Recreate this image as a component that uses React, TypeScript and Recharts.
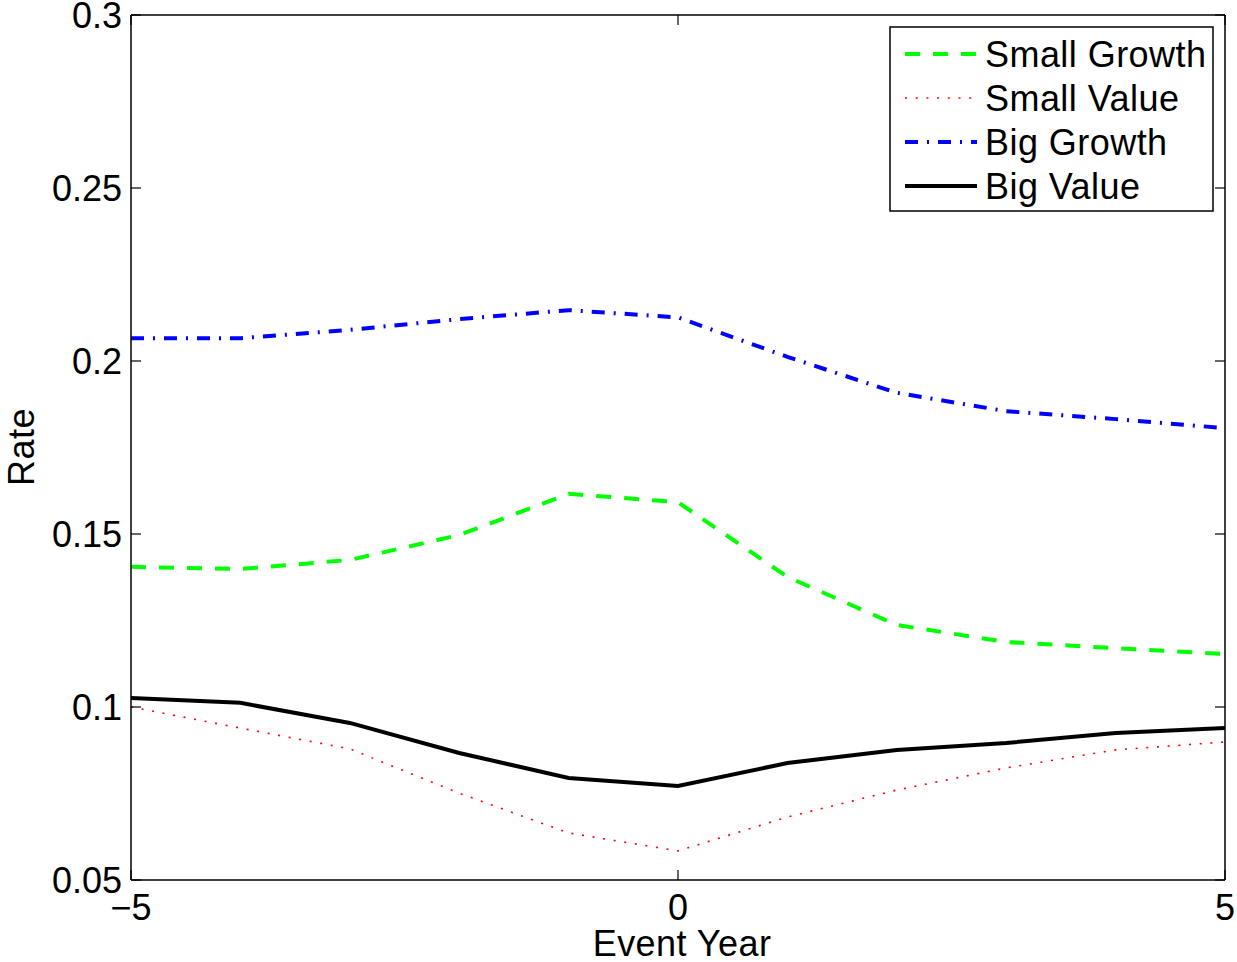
import React from 'react';
import { LineChart, Line, XAxis, YAxis, ReferenceLine, Label } from 'recharts';

const years = [-5, -4, -3, -2, -1, 0, 1, 2, 3, 4, 5];
const smallGrowth = [0.1405, 0.1399, 0.1425, 0.1497, 0.1616, 0.1592, 0.1376, 0.1237, 0.1188, 0.117, 0.1153];
const smallValue = [0.1, 0.0939, 0.0879, 0.0751, 0.0636, 0.0584, 0.0682, 0.076, 0.0824, 0.0876, 0.0899];
const bigGrowth = [0.2066, 0.2066, 0.209, 0.2121, 0.2147, 0.2126, 0.2012, 0.1908, 0.1855, 0.1832, 0.1806];
const bigValue = [0.1026, 0.1012, 0.0954, 0.0867, 0.0795, 0.0772, 0.0838, 0.0876, 0.0896, 0.0925, 0.0939];

const xTicks = [-5, 0, 5];
const yTicks = [0.05, 0.1, 0.15, 0.2, 0.25, 0.3];

const seriesNames = ['Small Growth', 'Small Value', 'Big Growth', 'Big Value'];
const seriesKeys = ['sg', 'sv', 'bg', 'bv'];
const seriesStyles = [
  { stroke: '#00ff00', strokeWidth: 4, dash: '15 13' },
  { stroke: '#ff0000', strokeWidth: 1.6, dash: '2 8.7' },
  { stroke: '#0000ff', strokeWidth: 4, dash: '13 9 2 9' },
  { stroke: '#000000', strokeWidth: 4, dash: undefined as string | undefined },
];

const data = years.map((y, i) => ({
  year: y,
  sg: smallGrowth[i],
  sv: smallValue[i],
  bg: bigGrowth[i],
  bv: bigValue[i],
}));

const W = 1237;
const H = 962;
const PL = 131;
const PR = 1225;
const PT = 15;
const PB = 880;
const TL = 10;
const FONT = '"Liberation Sans", Arial, Helvetica, sans-serif';
const FS = 36;
const LS = 0.45;

const YTick = (props: any) => {
  const { y, payload } = props;
  return (
    <g>
      <text x={PL - 9} y={y} textAnchor="end" dominantBaseline="central" fontFamily={FONT} fontSize={FS} fill="#000">
        {String(payload.value)}
      </text>
      <line x1={PL} x2={PL + TL} y1={y} y2={y} stroke="#000" strokeWidth={1.2} />
      <line x1={PR - TL} x2={PR} y1={y} y2={y} stroke="#000" strokeWidth={1.2} />
    </g>
  );
};

const XTick = (props: any) => {
  const { x, payload } = props;
  const v = payload.value as number;
  const label = v < 0 ? '\u2212' + Math.abs(v) : String(v);
  return (
    <g>
      <text x={x} y={920} textAnchor="middle" fontFamily={FONT} fontSize={FS} fill="#000">
        {label}
      </text>
      <line x1={x} x2={x} y1={PB} y2={PB - TL} stroke="#000" strokeWidth={1.2} />
      <line x1={x} x2={x} y1={PT} y2={PT + TL} stroke="#000" strokeWidth={1.2} />
    </g>
  );
};

const LegendBox = () => {
  const bx = 890;
  const by = 27;
  const bw = 323;
  const bh = 184;
  return (
    <svg width={W} height={H} style={{ position: 'absolute', left: 0, top: 0, pointerEvents: 'none' }}>
      <rect x={bx} y={by} width={bw} height={bh} fill="#fff" stroke="#000" strokeWidth={1.5} />
      {seriesNames.map((name, i) => {
        const base = 67 + i * 44;
        const st = seriesStyles[i];
        return (
          <g key={name}>
            <line
              x1={905}
              x2={977}
              y1={base - 13}
              y2={base - 13}
              stroke={st.stroke}
              strokeWidth={st.strokeWidth}
              strokeDasharray={st.dash}
            />
            <text x={985} y={base} fontFamily={FONT} fontSize={FS} letterSpacing={LS} fill="#000">
              {name}
            </text>
          </g>
        );
      })}
    </svg>
  );
};

export default function App() {
  return (
    <div style={{ position: 'absolute', left: 0, top: 0, width: W, height: H, background: '#fff' }}>
      <LineChart width={W} height={H} data={data} margin={{ top: PT, right: W - PR, bottom: 0, left: 0 }}>
        <XAxis
          dataKey="year"
          type="number"
          domain={[-5, 5]}
          ticks={xTicks}
          height={H - PB}
          tick={<XTick />}
          tickLine={false}
          axisLine={{ stroke: '#000', strokeWidth: 1.5 }}
          allowDataOverflow
        >
          <Label
            content={() => (
              <text x={682} y={956} textAnchor="middle" fontFamily={FONT} fontSize={FS} letterSpacing={LS} fill="#000">
                Event Year
              </text>
            )}
          />
        </XAxis>
        <YAxis
          type="number"
          domain={[0.05, 0.3]}
          ticks={yTicks}
          width={PL}
          tick={<YTick />}
          tickLine={false}
          axisLine={{ stroke: '#000', strokeWidth: 1.5 }}
          allowDataOverflow
        >
          <Label
            content={() => (
              <text transform="translate(34,447) rotate(-90)" textAnchor="middle" fontFamily={FONT} fontSize={FS} letterSpacing={LS} fill="#000">
                Rate
              </text>
            )}
          />
        </YAxis>
        <ReferenceLine y={0.3} stroke="#000" strokeWidth={1.5} />
        <ReferenceLine x={5} stroke="#000" strokeWidth={1.5} />
        {seriesKeys.map((k, i) => (
          <Line
            key={k}
            type="linear"
            dataKey={k}
            name={seriesNames[i]}
            stroke={seriesStyles[i].stroke}
            strokeWidth={seriesStyles[i].strokeWidth}
            strokeDasharray={seriesStyles[i].dash}
            dot={false}
            activeDot={false}
            isAnimationActive={false}
          />
        ))}
      </LineChart>
      <LegendBox />
    </div>
  );
}
